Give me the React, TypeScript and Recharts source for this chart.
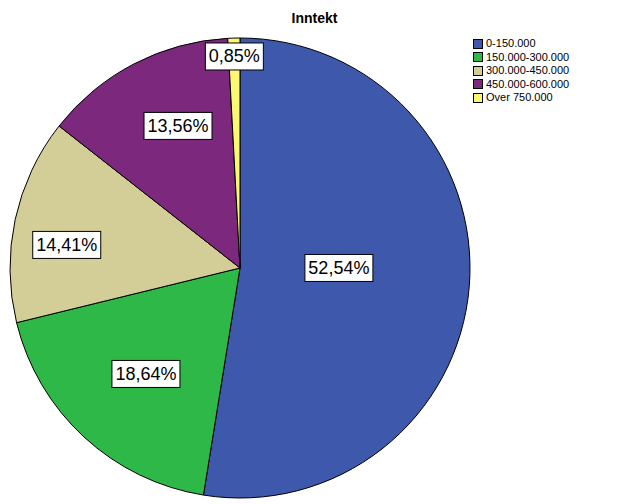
import React from 'react';
import { PieChart, Pie, Cell } from 'recharts';

const categories = ['0-150.000', '150.000-300.000', '300.000-450.000', '450.000-600.000', 'Over 750.000'];
const percentages = [52.54, 18.64, 14.41, 13.56, 0.85];
const colors = ['#3E58AC', '#2EB848', '#D3CE97', '#7B287D', '#FBF873'];

const data = categories.map((name, i) => ({ name, value: percentages[i] }));

// label box placement: fraction of radius and angle nudge (degrees)
const labelRadius = [0.43, 0.616, 0.76, 0.674, 0.92];
const labelAngleShift = [4.6, 1.1, 4.6, -3.9, 0];

const RADIAN = Math.PI / 180;
const FONT = 'Arial, "Liberation Sans", sans-serif';

const renderLabel = ({ cx, cy, midAngle, outerRadius, index, value }) => {
  const r = outerRadius * labelRadius[index];
  const a = midAngle + labelAngleShift[index];
  const x = cx + r * Math.cos(-a * RADIAN);
  const y = cy + r * Math.sin(-a * RADIAN);
  const text = value.toFixed(2).replace('.', ',') + '%';
  const w = text.length * 10 + 8;
  const h = 27;
  return (
    <g>
      <rect x={x - w / 2} y={y - h / 2} width={w} height={h} fill="#fff" stroke="#000" strokeWidth={1} />
      <text x={x} y={y + 1} textAnchor="middle" dominantBaseline="middle" fontSize={18} fontFamily={FONT} fill="#000">
        {text}
      </text>
    </g>
  );
};

const ChartLegend = () => (
  <div style={{ position: 'absolute', left: 473, top: 37, fontFamily: FONT, fontSize: 11, lineHeight: '13.5px' }}>
    {categories.map((c, i) => (
      <div key={c} style={{ display: 'flex', alignItems: 'center' }}>
        <span
          style={{
            display: 'inline-block',
            width: 8,
            height: 8,
            background: colors[i],
            border: '1px solid #000',
            marginRight: 3,
          }}
        />
        {c}
      </div>
    ))}
  </div>
);

export default function App() {
  return (
    <div style={{ position: 'absolute', left: 0, top: 0, width: 629, height: 504, background: '#fff' }}>
      <PieChart width={629} height={504} margin={{ top: 0, right: 0, bottom: 0, left: 0 }}>
        <Pie
          data={data}
          dataKey="value"
          nameKey="name"
          cx={240}
          cy={268}
          outerRadius={230}
          startAngle={90}
          endAngle={-270}
          stroke="#000"
          strokeWidth={1}
          label={renderLabel}
          labelLine={false}
          isAnimationActive={false}
        >
          {data.map((d, i) => (
            <Cell key={d.name} fill={colors[i]} />
          ))}
        </Pie>
      </PieChart>
      <div
        style={{
          position: 'absolute',
          left: 0,
          width: 629,
          top: 10,
          textAlign: 'center',
          fontFamily: FONT,
          fontWeight: 'bold',
          fontSize: 14,
        }}
      >
        Inntekt
      </div>
      <ChartLegend />
    </div>
  );
}
